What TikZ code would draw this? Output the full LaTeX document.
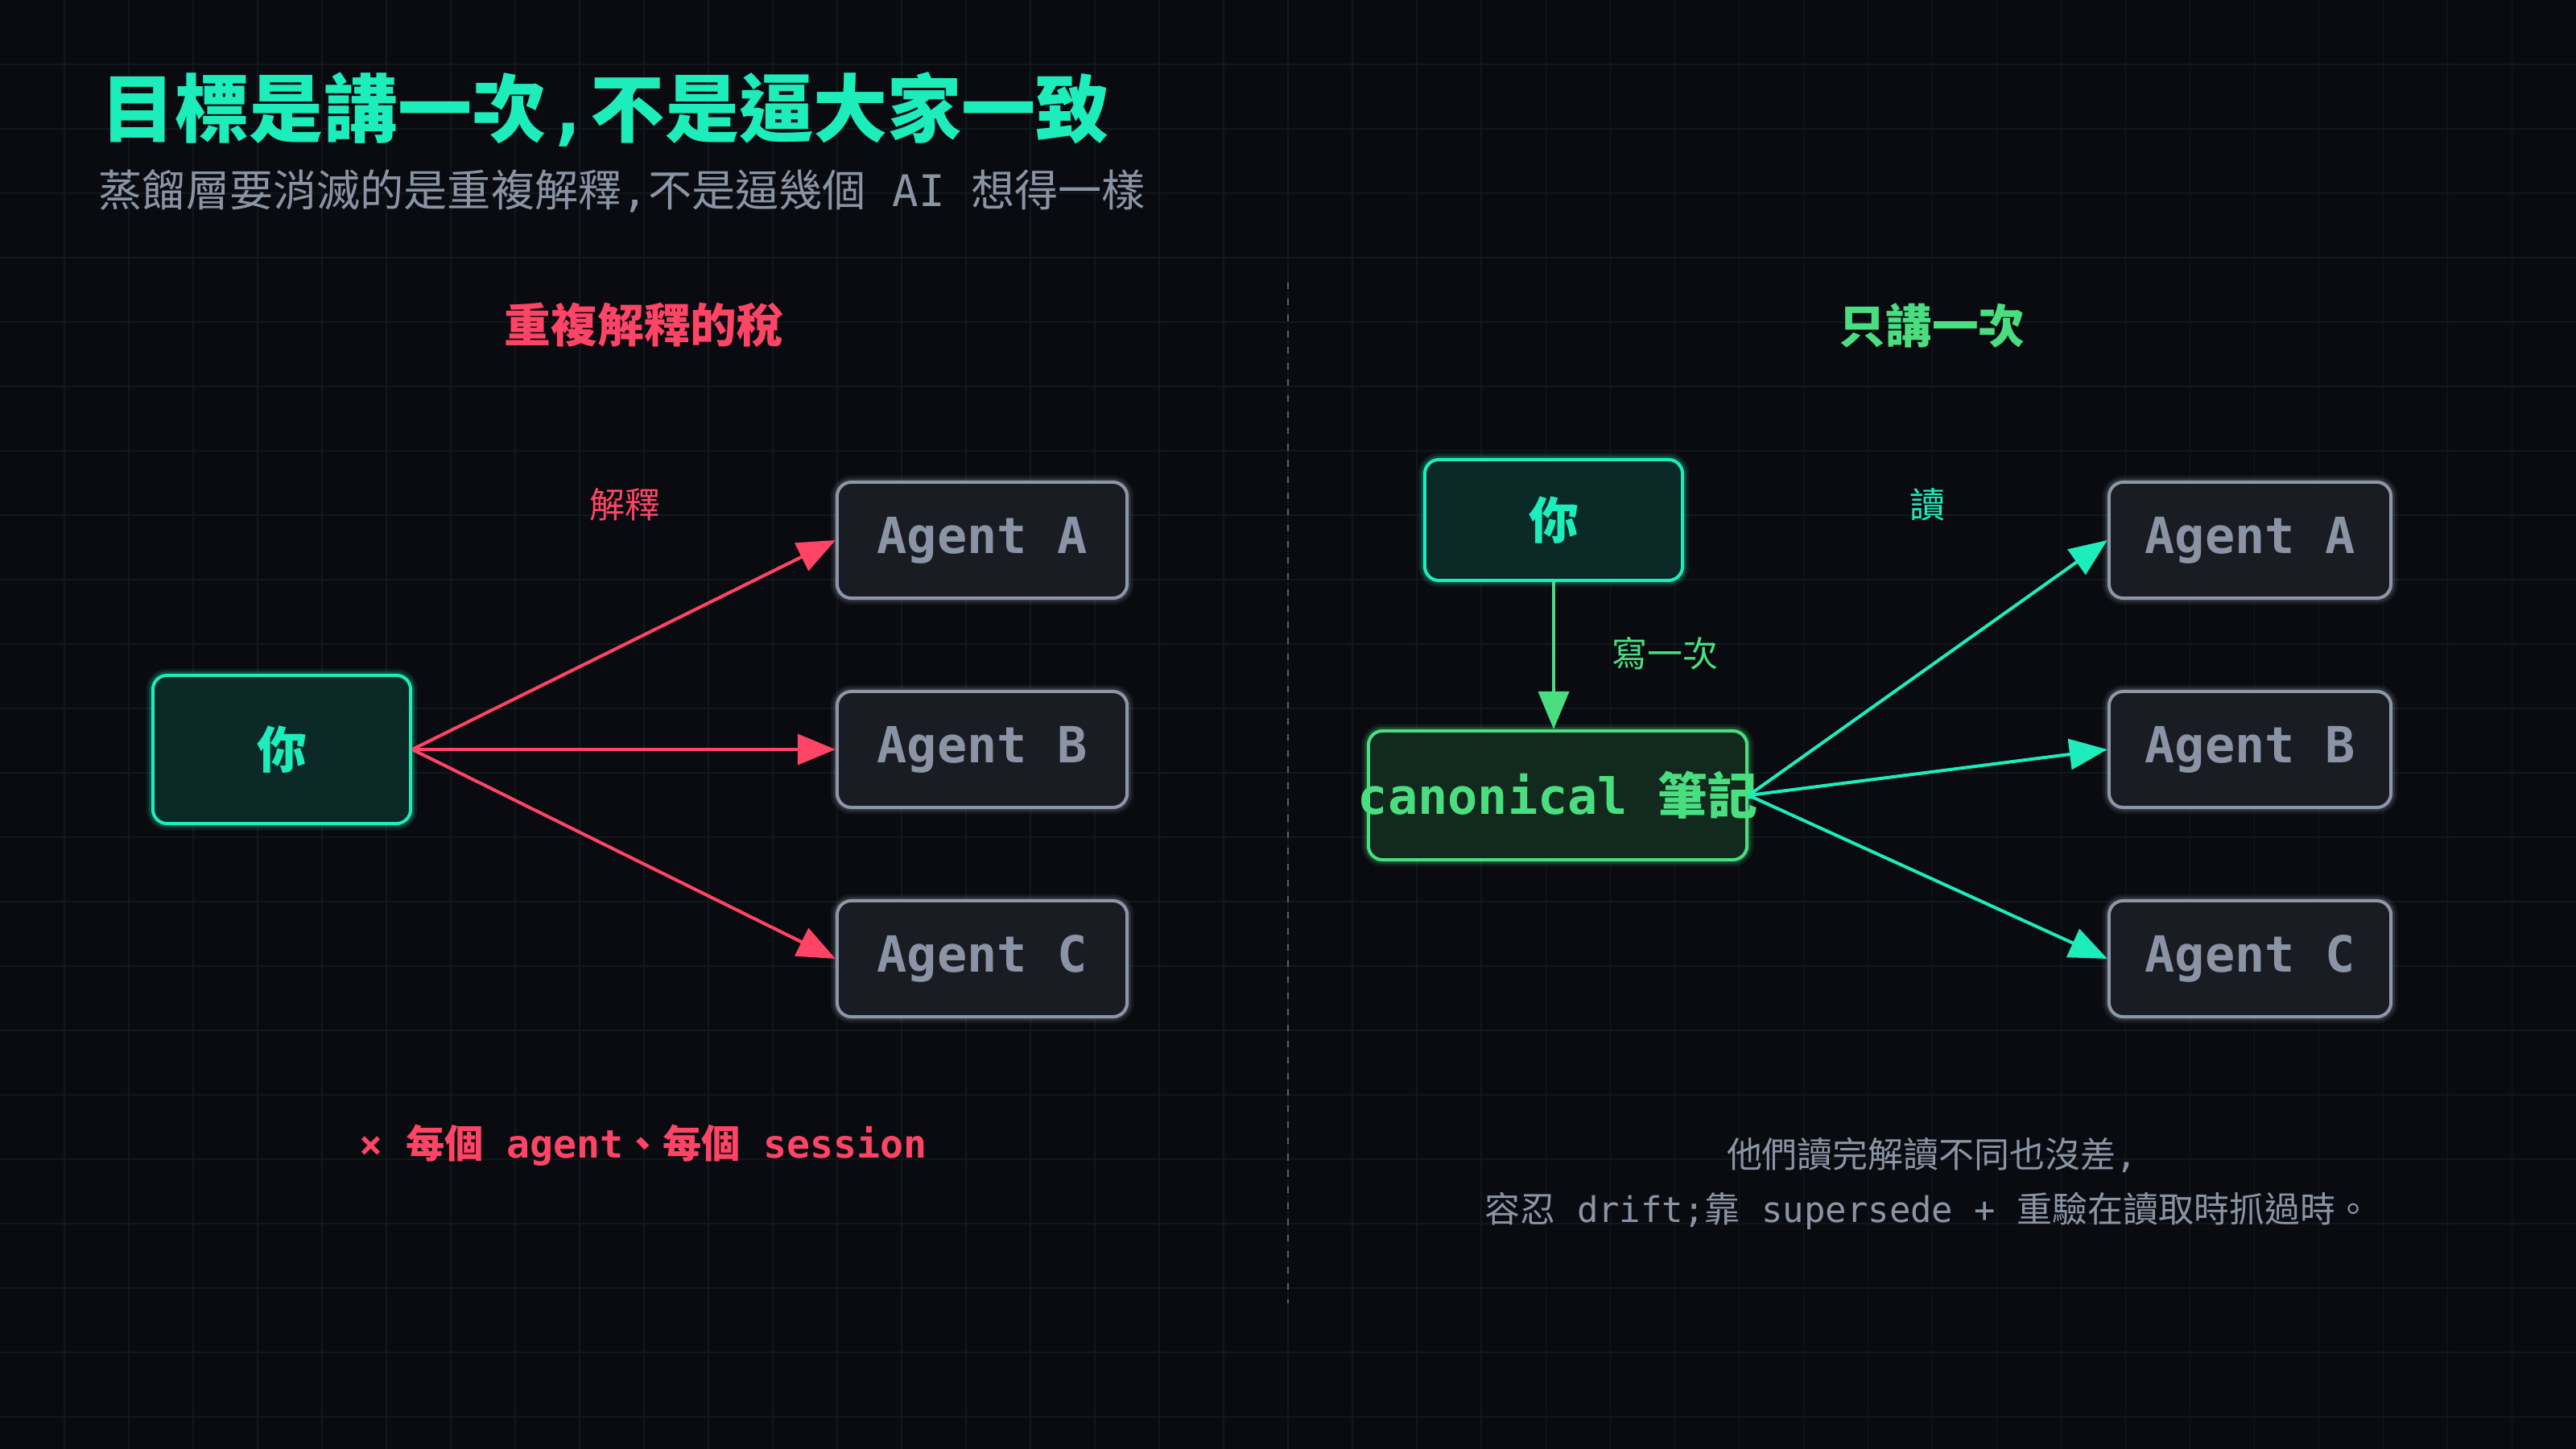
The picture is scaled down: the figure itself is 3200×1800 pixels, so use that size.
\documentclass[tikz,border=0pt]{standalone}
\usepackage{fontspec}
\setmainfont{DejaVu Sans Mono}
\newfontfamily\cjk{Noto Sans CJK TC}
\usetikzlibrary{arrows.meta}
\definecolor{bg}{HTML}{0A0B10}
\definecolor{gridc}{HTML}{10181A}
\definecolor{cteal}{HTML}{1CEDBA}
\definecolor{cgreen}{HTML}{4ADE80}
\definecolor{cred}{HTML}{FF4466}
\definecolor{cgray}{HTML}{8B94A5}
\definecolor{tealfill}{HTML}{0B2A27}
\definecolor{greenfill}{HTML}{112A1D}
\definecolor{agentfill}{HTML}{1A1C24}
\definecolor{agentline}{HTML}{8E97A8}
\definecolor{divc}{HTML}{596070}
\newcommand{\setfs}[1]{\fontsize{#1pt}{#1pt}\selectfont}
\tikzset{
  glowfx/.style={preaction={draw=#1, line width=4.6pt, opacity=0.10},
                 preaction={draw=#1, line width=2.8pt, opacity=0.18}},
  nbox/.style={rounded corners=5pt, line width=1.14pt, inner sep=0pt},
  ybox/.style={nbox, draw=cteal, fill=tealfill, text=cteal, glowfx=cteal,
               font=\setfs{17.6}\cjk\bfseries},
  abox/.style={nbox, draw=agentline, fill=agentfill, text=cgray, glowfx=agentline,
               minimum height=1.44cm, font=\setfs{17.6}\bfseries},
  cbox/.style={nbox, draw=cgreen, fill=greenfill, text=cgreen, glowfx=cgreen,
               font=\setfs{17.6}\bfseries},
  arr/.style={line width=1.14pt, -{Triangle[length=13.4pt, width=10.8pt]}},
  lbl/.style={inner sep=0pt, font=\setfs{12.5}\cjk},
  sect/.style={inner sep=0pt, font=\setfs{16.4}\cjk\bfseries},
}
\begin{document}
\begin{tikzpicture}[x=0.01cm, y=-0.01cm]
\useasboundingbox (0,0) rectangle (3200,1800);
\fill[bg] (0,0) rectangle (3200,1800);
% grid
\foreach \gx in {80,160,...,3120} \draw[gridc, line width=0.3pt] (\gx,0) -- (\gx,1800);
\foreach \gy in {80,160,...,1760} \draw[gridc, line width=0.3pt] (0,\gy) -- (3200,\gy);

% title
\node[anchor=west, inner sep=0pt, text=cteal, font=\setfs{26.2}\bfseries] (title) at (125,136)
  {{\cjk 目標是講一次},{\cjk 不是逼大家一致}};
\node[anchor=west, inner sep=0pt, text=cgray, font=\setfs{15.4}] (subtitle) at (122,237)
  {{\cjk 蒸餾層要消滅的是重複解釋},{\cjk 不是逼幾個} AI {\cjk 想得一樣}};

% divider
\draw[divc, line width=0.55pt, dash pattern=on 2.3pt off 3.4pt] (1600,351) -- (1600,1619);

% left section
\node[sect, text=cred] (ltitle) at (800,404) {重複解釋的稅};
\node[ybox, minimum width=3.2cm, minimum height=1.84cm] (you1) at (350,931) {你};
\node[abox, minimum width=3.6cm] (la) at (1220,671) {Agent A};
\node[abox, minimum width=3.6cm] (lb) at (1220,931) {Agent B};
\node[abox, minimum width=3.6cm] (lc) at (1220,1191) {Agent C};
\draw[arr, cred] (you1.east) -- (la.west);
\draw[arr, cred] (you1.east) -- (lb.west);
\draw[arr, cred] (you1.east) -- (lc.west);
\node[lbl, text=cred] (lexp) at (776,627) {解釋};
\node[inner sep=0pt, text=cred, font=\setfs{13.7}\bfseries] (lnote) at (799,1423)
  {× {\cjk 每個} agent{\cjk 、每個} session};

% right section
\node[sect, text=cgreen] (rtitle) at (2400,404) {只講一次};
\node[ybox, minimum width=3.2cm, minimum height=1.5cm] (you2) at (1930,646) {你};
\node[cbox, minimum width=4.7cm, minimum height=1.6cm] (canon) at (1935,988)
  {\makebox[0pt][c]{canonical {\cjk 筆記}}};
\node[abox, minimum width=3.5cm] (ra) at (2795,671) {Agent A};
\node[abox, minimum width=3.5cm] (rb) at (2795,931) {Agent B};
\node[abox, minimum width=3.5cm] (rc) at (2795,1191) {Agent C};
\draw[arr, cgreen] (you2.south) -- (you2.south |- canon.north);
\draw[arr, cteal] (canon.east) -- (ra.west);
\draw[arr, cteal] (canon.east) -- (rb.west);
\draw[arr, cteal] (canon.east) -- (rc.west);
\node[lbl, text=cgreen] (write) at (2068,812) {寫一次};
\node[lbl, text=cteal] (read) at (2394,627) {讀};
\node[inner sep=0pt, text=cgray, font=\setfs{12.5}] (rnote1) at (2400,1435)
  {{\cjk 他們讀完解讀不同也沒差},};
\node[inner sep=0pt, text=cgray, font=\setfs{12.5}] (rnote2) at (2395,1504)
  {{\cjk 容忍} drift;{\cjk 靠} supersede + {\cjk 重驗在讀取時抓過時。}};
\end{tikzpicture}
\end{document}
